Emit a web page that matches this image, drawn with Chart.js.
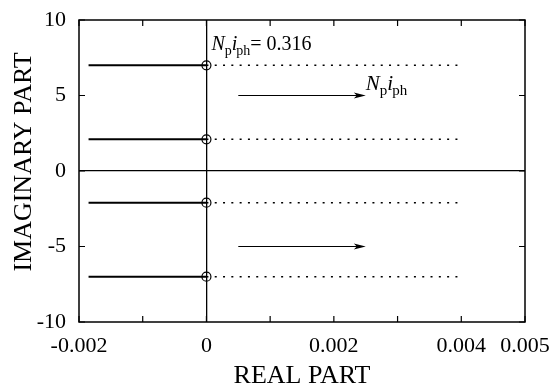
<!DOCTYPE html>
<html>
<head>
<meta charset="utf-8">
<script src="https://cdn.jsdelivr.net/npm/chart.js"></script>
<style>
  body { margin: 0; background: #fff; }
  #wrap { width: 557px; height: 392px; }
</style>
</head>
<body>
<div id="wrap"><canvas id="root-locus"></canvas></div>
<script>
// imaginary parts of the four roots (at real part 0)
var rootImag = [7.0, 2.1, -2.1, -7.0];
// solid part starts left of zero, dotted part runs out to the right
var solidFrom = -0.00185;
var rootReal = 0;
var dottedTo = 0.004;
// the two arrows (direction of increasing Np*iph)
var arrowImag = [5, -5];
var arrowFrom = 0.0005;
var arrowTo = 0.00247;
// axis ticks
var xTicks = [-0.002, -0.001, 0, 0.001, 0.002, 0.003, 0.004, 0.005];
var xLabels = ['-0.002', '', '0', '', '0.002', '', '0.004', '0.005'];
var yTicks = [-10, -5, 0, 5, 10];

var serif = "'Liberation Serif', 'Times New Roman', serif";

var datasets = [];
rootImag.forEach(function (im) {
  datasets.push({
    data: [{x: solidFrom, y: im}, {x: rootReal, y: im}],
    showLine: true, borderColor: '#000', borderWidth: 2, pointRadius: 0
  });
  datasets.push({
    data: [{x: rootReal, y: im}, {x: dottedTo, y: im}],
    showLine: true, borderColor: '#000', borderWidth: 1.5, borderDash: [2, 6.3], pointRadius: 0
  });
});
datasets.push({
  data: rootImag.map(function (im) { return {x: rootReal, y: im}; }),
  showLine: false, pointStyle: 'circle', pointRadius: 4.5,
  pointBorderColor: '#000', pointBackgroundColor: 'rgba(0,0,0,0)', pointBorderWidth: 1.2
});
arrowImag.forEach(function (im) {
  datasets.push({
    data: [{x: arrowFrom, y: im}, {x: arrowTo, y: im}],
    showLine: true, borderColor: '#000', borderWidth: 1.2, pointRadius: 0
  });
});

// frame, inward ticks, arrowheads, text
var extras = {
  id: 'extras',
  afterDatasetsDraw: function (chart) {
    var c = chart.ctx, a = chart.chartArea;
    var xs = chart.scales.x, ys = chart.scales.y;
    c.save();
    c.strokeStyle = '#000';
    c.lineWidth = 1.5;
    c.strokeRect(a.left, a.top, a.right - a.left, a.bottom - a.top);
    c.lineWidth = 1.2;
    c.beginPath();
    xTicks.forEach(function (v) {
      var px = xs.getPixelForValue(v);
      c.moveTo(px, a.bottom); c.lineTo(px, a.bottom - 6);
      c.moveTo(px, a.top); c.lineTo(px, a.top + 6);
    });
    yTicks.forEach(function (v) {
      var py = ys.getPixelForValue(v);
      c.moveTo(a.left, py); c.lineTo(a.left + 6, py);
      c.moveTo(a.right, py); c.lineTo(a.right - 6, py);
    });
    c.stroke();

    // arrowheads
    c.fillStyle = '#000';
    arrowImag.forEach(function (im) {
      var px = xs.getPixelForValue(arrowTo), py = ys.getPixelForValue(im);
      c.beginPath();
      c.moveTo(px + 2, py);
      c.lineTo(px - 10, py - 3);
      c.lineTo(px - 7, py);
      c.lineTo(px - 10, py + 3);
      c.closePath();
      c.fill();
    });

    // Np iph labels
    function npiph(x, y, big, small) {
      c.textBaseline = 'alphabetic';
      c.textAlign = 'left';
      c.font = 'italic ' + big + 'px ' + serif;
      c.fillText('N', x, y); x += c.measureText('N').width;
      c.font = small + 'px ' + serif;
      c.fillText('p', x, y + 5); x += c.measureText('p').width;
      c.font = 'italic ' + big + 'px ' + serif;
      c.fillText('i', x, y); x += c.measureText('i').width;
      c.font = small + 'px ' + serif;
      c.fillText('ph', x - 1, y + 5); x += c.measureText('ph').width - 1;
      return x;
    }
    var endX = npiph(xs.getPixelForValue(rootReal) + 5, ys.getPixelForValue(8.0), 20, 14);
    c.font = '20px ' + serif;
    c.fillText('= 0.316', endX, ys.getPixelForValue(8.0));
    npiph(xs.getPixelForValue(arrowTo) + 2, ys.getPixelForValue(5.35), 21, 15);

    // y axis title
    c.translate(24, (a.top + a.bottom) / 2 - 9);
    c.rotate(-Math.PI / 2);
    c.textAlign = 'center';
    c.textBaseline = 'middle';
    c.font = '26px ' + serif;
    c.fillText('IMAGINARY PART', 0, 0);
    c.restore();
  }
};

new Chart(document.getElementById('root-locus'), {
  type: 'scatter',
  data: { datasets: datasets },
  options: {
    responsive: true,
    maintainAspectRatio: false,
    animation: false,
    layout: { padding: { top: 20, right: 32, bottom: 0, left: 0 } },
    plugins: { legend: { display: false }, tooltip: { enabled: false } },
    scales: {
      x: {
        type: 'linear', min: -0.002, max: 0.005,
        afterBuildTicks: function (s) { s.ticks = xTicks.map(function (v) { return {value: v}; }); },
        afterFit: function (s) { s.height = 70; s.paddingLeft = 0; s.paddingRight = 0; },
        grid: {
          drawTicks: false,
          color: function (ctx) { return ctx.tick && ctx.tick.value === 0 ? '#000' : 'rgba(0,0,0,0)'; },
          lineWidth: 1.3
        },
        border: { display: false },
        ticks: {
          padding: 11, color: '#000', maxRotation: 0, autoSkip: false,
          font: { family: serif, size: 22 },
          callback: function (v, i) { return xLabels[i]; }
        },
        title: {
          display: true, text: 'REAL PART', color: '#000',
          font: { family: serif, size: 26 }, padding: { top: 11, bottom: 0 }
        }
      },
      y: {
        type: 'linear', min: -10, max: 10,
        afterBuildTicks: function (s) { s.ticks = yTicks.map(function (v) { return {value: v}; }); },
        afterFit: function (s) { s.width = 79; s.paddingTop = 0; s.paddingBottom = 0; },
        grid: {
          drawTicks: false,
          color: function (ctx) { return ctx.tick && ctx.tick.value === 0 ? '#000' : 'rgba(0,0,0,0)'; },
          lineWidth: 1.3
        },
        border: { display: false },
        ticks: {
          padding: 13, color: '#000',
          font: { family: serif, size: 22 }
        }
      }
    }
  },
  plugins: [extras]
});
</script>
</body>
</html>
